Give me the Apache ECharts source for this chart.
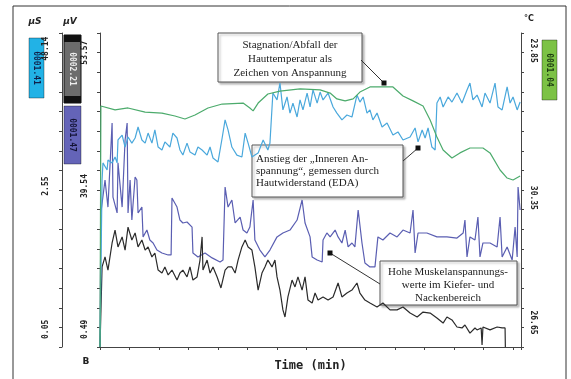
<!DOCTYPE html>
<html>
<head>
<meta charset="utf-8">
<script src="https://cdn.jsdelivr.net/npm/echarts@6/dist/echarts.min.js"></script>
<style>html,body{margin:0;padding:0;background:#fff}#c{width:571px;height:379px}</style>
</head>
<body>
<div id="c"></div>
<script>
// time (min) vs. value in axis-grid units (16 grid steps)
const tempSeries = [[0,0],[0.03,12.28],[0.51,12.08],[0.95,12.18],[1.53,11.97],[2.10,11.92],[2.54,11.77],[2.88,11.62],[3.22,11.82],[3.66,12.18],[4.14,12.38],[4.85,12.43],[5.08,12.18],[5.19,12.03],[5.36,12.43],[5.69,12.89],[6.10,13.04],[6.78,13.15],[7.46,13.10],[7.80,12.94],[8.03,12.64],[8.31,12.54],[8.58,12.64],[8.81,12.99],[9.15,13.25],[9.93,13.25],[10.27,12.79],[10.61,12.54],[10.95,12.28],[11.19,11.57],[11.42,10.70],[11.63,10.04],[11.93,9.63],[12.20,9.89],[12.54,10.14],[12.98,10.14],[13.22,9.89],[13.56,9.02],[13.80,8.61],[14.00,8.51],[14.24,8.71]];

const edaSeries = [[0,0],[0.07,8.51],[0.10,9.38],[0.24,9.02],[0.27,9.53],[0.41,9.38],[0.51,9.68],[0.58,9.38],[0.61,10.55],[0.75,10.80],[0.85,10.19],[0.95,10.70],[1.08,10.39],[1.19,10.65],[1.29,11.21],[1.42,10.55],[1.53,10.39],[1.63,10.90],[1.76,10.39],[1.86,11.06],[1.97,10.19],[2.10,10.04],[2.20,10.45],[2.37,10.19],[2.47,10.90],[2.61,10.65],[2.71,10.04],[2.81,9.78],[2.95,10.39],[3.05,9.94],[3.22,9.78],[3.32,10.19],[3.46,10.04],[3.63,9.78],[3.73,10.19],[3.83,9.63],[4.00,9.43],[4.14,10.65],[4.24,11.57],[4.34,11.06],[4.47,10.19],[4.64,9.78],[4.81,9.68],[4.92,10.90],[5.02,10.39],[5.15,9.68],[5.25,9.78],[5.36,9.89],[5.53,10.55],[5.69,10.04],[5.76,10.39],[5.86,12.94],[6.00,12.59],[6.10,13.45],[6.20,12.08],[6.34,12.74],[6.44,11.92],[6.54,12.43],[6.68,11.72],[6.78,12.59],[6.88,12.08],[7.02,12.94],[7.12,12.23],[7.22,13.10],[7.36,12.43],[7.46,12.99],[7.56,12.59],[7.73,12.94],[7.90,12.23],[8.03,11.92],[8.20,11.57],[8.37,11.82],[8.54,11.72],[8.71,12.84],[8.81,12.48],[8.92,12.74],[9.05,11.92],[9.15,12.08],[9.25,11.57],[9.39,11.92],[9.56,11.21],[9.73,11.41],[9.93,10.80],[10.10,10.96],[10.27,10.55],[10.51,10.70],[10.68,11.16],[10.78,10.45],[10.92,11.06],[11.02,10.65],[11.12,11.16],[11.25,10.19],[11.36,10.04],[11.42,12.43],[11.53,12.74],[11.63,12.23],[11.80,12.74],[11.93,12.48],[12.10,12.94],[12.27,12.43],[12.44,13.10],[12.54,13.45],[12.64,12.59],[12.78,12.84],[12.95,12.23],[13.05,12.94],[13.22,12.43],[13.39,13.45],[13.49,12.23],[13.63,12.08],[13.80,13.25],[13.90,12.43],[14.00,12.74],[14.14,12.08],[14.24,12.48]];

const emgJawSeries = [[0,0],[0.03,6.83],[0.17,8.51],[0.27,7.13],[0.41,11.41],[0.44,7.64],[0.58,6.83],[0.61,9.38],[0.75,7.13],[0.85,10.55],[0.92,11.41],[0.95,6.83],[1.02,8.51],[1.08,6.47],[1.19,8.66],[1.25,8.51],[1.29,6.83],[1.42,7.13],[1.46,5.61],[1.59,5.96],[1.69,5.45],[1.80,5.30],[1.93,4.94],[2.10,4.79],[2.31,4.69],[2.41,4.69],[2.44,7.59],[2.61,7.13],[2.71,6.47],[2.81,6.32],[2.95,6.37],[3.12,6.11],[3.15,4.79],[3.32,4.59],[3.56,4.79],[3.80,4.54],[4.07,4.33],[4.17,4.43],[4.24,8.15],[4.34,7.13],[4.47,7.49],[4.58,6.32],[4.75,6.62],[4.85,5.96],[4.98,5.81],[5.08,6.11],[5.19,7.49],[5.25,5.45],[5.42,4.94],[5.59,4.59],[5.76,4.94],[6.00,5.61],[6.20,5.81],[6.44,5.96],[6.68,6.47],[6.85,7.49],[6.95,6.32],[7.12,5.61],[7.19,4.59],[7.36,4.43],[7.53,4.33],[7.56,5.45],[7.69,5.81],[7.80,5.61],[7.97,5.96],[8.07,5.61],[8.20,5.30],[8.31,5.96],[8.41,5.10],[8.54,5.30],[8.64,5.10],[8.75,6.98],[8.88,5.30],[8.98,4.28],[9.15,4.08],[9.32,4.08],[9.42,5.61],[9.59,5.45],[9.83,5.81],[10.07,5.61],[10.27,5.96],[10.51,5.81],[10.61,6.98],[10.68,4.79],[10.78,5.81],[11.08,5.81],[11.42,5.61],[11.76,5.61],[12.10,5.55],[12.31,5.81],[12.37,6.47],[12.44,4.59],[12.54,5.61],[12.71,5.45],[12.81,6.62],[12.88,4.59],[12.98,5.30],[13.22,5.30],[13.46,5.10],[13.56,6.62],[13.63,4.59],[13.80,5.10],[13.97,4.43],[14.07,6.11],[14.14,4.59],[14.17,8.15],[14.24,6.98]];

const emgNeckSeries = [[0,0],[0.07,4.08],[0.17,4.59],[0.27,3.92],[0.41,5.30],[0.51,5.96],[0.61,5.10],[0.75,5.61],[0.85,4.94],[0.95,6.11],[1.08,5.45],[1.19,5.81],[1.29,5.10],[1.42,5.45],[1.53,4.94],[1.63,5.10],[1.76,4.59],[1.86,4.79],[1.97,3.92],[2.10,3.77],[2.20,4.08],[2.31,3.67],[2.44,3.92],[2.61,3.41],[2.71,3.77],[2.81,3.92],[2.95,3.57],[3.05,4.08],[3.15,3.41],[3.29,3.57],[3.39,4.43],[3.46,5.61],[3.49,3.92],[3.63,4.43],[3.73,3.77],[3.83,4.08],[3.97,3.57],[4.10,3.01],[4.24,3.92],[4.34,4.08],[4.47,4.08],[4.58,3.77],[4.68,4.43],[4.81,5.10],[4.92,5.45],[5.02,5.10],[5.15,4.94],[5.25,4.08],[5.36,2.90],[5.49,3.77],[5.59,4.08],[5.69,4.43],[5.83,4.08],[5.93,4.43],[6.00,3.57],[6.10,2.90],[6.20,1.89],[6.27,1.53],[6.37,2.55],[6.51,3.41],[6.61,3.06],[6.71,3.57],[6.85,2.90],[6.95,3.57],[7.05,2.39],[7.19,2.24],[7.29,2.75],[7.39,2.39],[7.56,2.55],[7.73,2.39],[7.90,2.55],[8.07,3.26],[8.20,2.55],[8.37,2.75],[8.54,2.90],[8.71,3.26],[8.81,2.75],[8.98,2.39],[9.15,2.24],[9.39,2.04],[9.59,2.24],[9.83,1.89],[10.07,1.89],[10.27,2.04],[10.51,1.73],[10.75,1.53],[10.95,1.78],[11.19,1.73],[11.42,1.48],[11.63,1.22],[11.76,1.53],[11.93,1.38],[12.10,1.02],[12.27,0.97],[12.37,1.12],[12.54,0.71],[12.71,0.97],[12.78,0.87],[12.92,0.97],[12.95,0.10],[12.98,1.02],[13.22,0.87],[13.46,1.02],[13.63,0.97],[13.73,0.97],[13.74,0]];

// tick labels
const uvLabelValues = [15, 8.2, 0.9];
const uvLabels = ['53.57', '39.54', '0.49'];
const usLabelValues = [15.2, 8.2, 0.9];
const usLabels = ['48.14', '2.55', '0.05'];
const cLabelValues = [15.1, 7.6, 1.25];
const cLabels = ['23.85', '30.35', '26.65'];
const xName = 'Time (min)';
const channelTags = ['0001.41', '0002.21', '0001.47', '0001.04'];
const note1 = ['Stagnation/Abfall der', 'Hauttemperatur als', 'Zeichen von Anspannung'];
const note2 = ['Anstieg der \u201eInneren An-', 'spannung\u201c, gemessen durch', 'Hautwiderstand (EDA)'];
const note3 = ['Hohe Muskelanspannungs-', 'werte im Kiefer- und', 'Nackenbereich'];

const chart = echarts.init(document.getElementById('c'), null, {renderer: 'canvas'});
const monoFont = '"DejaVu Sans Mono", monospace';
const serifFont = '"Liberation Serif", "DejaVu Serif", serif';

function yAx(pos, offset, vals, labels, rot, margin) {
  return {
    type: 'value', position: pos, offset: offset, min: 0, max: 16, interval: 1,
    splitLine: {show: false},
    axisLine: {show: true, lineStyle: {color: '#444', width: 1}},
    axisTick: {show: true, length: 3, lineStyle: {color: '#444'}},
    axisLabel: {
      customValues: vals, rotate: rot, margin: margin,
      fontFamily: monoFont, fontSize: 8, fontWeight: 'bold', color: '#222',
      formatter: function (v) {
        let best = 0;
        for (let i = 0; i < vals.length; i++) if (Math.abs(vals[i] - v) < Math.abs(vals[best] - v)) best = i;
        return labels[best];
      }
    }
  };
}

function noteBox(x, y, w, h, lines, align, tx, ty0, dy) {
  const children = [{
    type: 'rect', shape: {x: x, y: y, width: w, height: h},
    style: {fill: '#fff', stroke: '#555', lineWidth: 1, shadowColor: 'rgba(0,0,0,0.25)', shadowOffsetX: 2, shadowOffsetY: 2, shadowBlur: 2}
  }];
  lines.forEach((t, i) => children.push({
    type: 'text', x: tx, y: ty0 + i * dy,
    style: {text: t, font: '11px ' + serifFont, fill: '#222', align: align, verticalAlign: 'middle'}
  }));
  return {type: 'group', z: 100, children: children};
}
function arrow(x1, y1, x2, y2) {
  return {type: 'group', z: 101, children: [
    {type: 'line', shape: {x1: x1, y1: y1, x2: x2, y2: y2}, style: {stroke: '#333', lineWidth: 1}},
    {type: 'rect', shape: {x: x2 - 2.5, y: y2 - 2.5, width: 5, height: 5}, style: {fill: '#111'}}
  ]};
}
function tag(x, y, w, h, fill, text, color) {
  return {type: 'group', children: [
    {type: 'rect', shape: {x: x, y: y, width: w, height: h}, style: {fill: fill, stroke: 'rgba(0,0,0,0.35)', lineWidth: 1}},
    {type: 'text', x: x + w / 2, y: y + h / 2, rotation: -Math.PI / 2,
     style: {text: text, font: 'bold 8px ' + monoFont, fill: color, align: 'center', verticalAlign: 'middle'}}
  ]};
}

chart.setOption({
  animation: false,
  backgroundColor: '#fff',
  grid: {left: 100, right: 50, top: 33, bottom: 32},
  xAxis: {
    type: 'value', min: 0, max: 14.27, interval: 1,
    name: xName, nameLocation: 'middle', nameGap: 13,
    nameTextStyle: {fontFamily: monoFont, fontSize: 12, fontWeight: 'bold', color: '#222'},
    splitLine: {show: false},
    axisLine: {lineStyle: {color: '#444'}},
    axisTick: {length: 3, lineStyle: {color: '#444'}},
    axisLabel: {show: false}
  },
  yAxis: [
    yAx('left', 0, uvLabelValues, uvLabels, 90, 11),
    yAx('left', 38, usLabelValues, usLabels, 90, 12),
    yAx('right', 0, cLabelValues, cLabels, -90, 8)
  ],
  series: [
    {type: 'line', yAxisIndex: 0, data: emgJawSeries, showSymbol: false, lineStyle: {color: '#5a5eb2', width: 1.2}, z: 2},
    {type: 'line', yAxisIndex: 0, data: emgNeckSeries, showSymbol: false, lineStyle: {color: '#2b2b2b', width: 1.2}, z: 3},
    {type: 'line', yAxisIndex: 1, data: edaSeries, showSymbol: false, lineStyle: {color: '#4aa8dc', width: 1.2}, z: 4},
    {type: 'line', yAxisIndex: 2, data: tempSeries, showSymbol: false, lineStyle: {color: '#4cab6c', width: 1.2}, z: 5}
  ],
  graphic: [
    {type: 'rect', shape: {x: 13, y: 6, width: 553, height: 390}, style: {fill: 'none', stroke: '#333', lineWidth: 1}, silent: true},
    {type: 'text', x: 35, y: 22, style: {text: '\u03bcS', font: 'italic bold 9px "DejaVu Sans"', fill: '#222', align: 'center', verticalAlign: 'middle'}},
    {type: 'text', x: 70, y: 22, style: {text: '\u03bcV', font: 'italic bold 9px "DejaVu Sans"', fill: '#222', align: 'center', verticalAlign: 'middle'}},
    {type: 'text', x: 529, y: 19, style: {text: '\u00b0C', font: 'bold 8px "DejaVu Sans"', fill: '#222', align: 'center', verticalAlign: 'middle'}},
    {type: 'text', x: 86, y: 362, style: {text: 'B', font: 'bold 9px "DejaVu Sans"', fill: '#222', align: 'center', verticalAlign: 'middle'}},
    tag(29, 38, 15, 60, '#22b2e6', channelTags[0], '#10204a'),
    {type: 'group', children: [
      {type: 'rect', shape: {x: 64, y: 35, width: 17, height: 68}, style: {fill: '#6c6c6c', stroke: '#111', lineWidth: 1}},
      {type: 'rect', shape: {x: 64, y: 35, width: 17, height: 7}, style: {fill: '#111'}},
      {type: 'rect', shape: {x: 64, y: 96, width: 17, height: 7}, style: {fill: '#111'}},
      {type: 'text', x: 72.5, y: 69, rotation: -Math.PI / 2, style: {text: channelTags[1], font: 'bold 8px ' + monoFont, fill: '#eee', align: 'center', verticalAlign: 'middle'}}
    ]},
    tag(64, 106, 17, 58, '#6464b8', channelTags[2], '#141436'),
    tag(542, 40, 15, 60, '#7cc245', channelTags[3], '#1b3a10'),
    noteBox(218, 33, 144, 49, note1, 'center', 290, 45, 14),
    noteBox(252, 145, 151, 52, note2, 'left', 256, 159, 12),
    noteBox(380, 261, 137, 44, note3, 'center', 448, 272, 13),
    arrow(361, 60, 384, 83),
    arrow(403, 161, 418, 148),
    arrow(380, 284, 330, 253)
  ]
});
</script>
</body>
</html>
